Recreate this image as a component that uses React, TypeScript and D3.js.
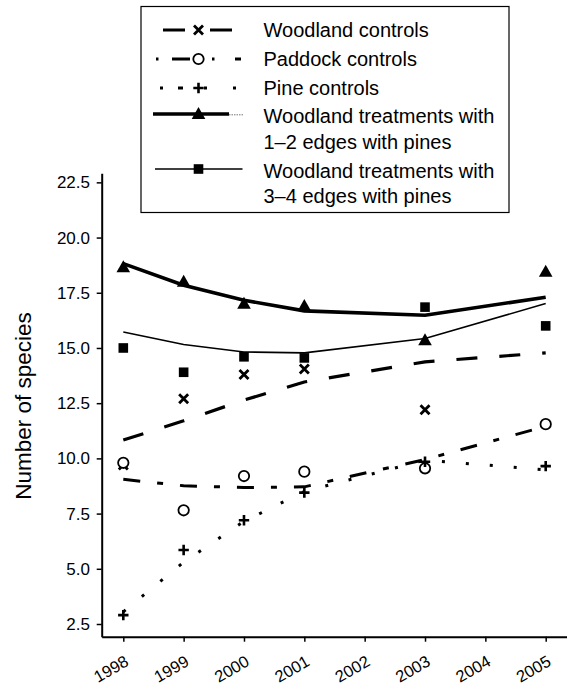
import { useEffect, useRef } from "react";
import * as d3 from "d3";

// years with observations; 2002 and 2004 only get a tick
const years = [1998, 1999, 2000, 2001, 2003, 2005];
const tickYears = [1998, 1999, 2000, 2001, 2002, 2003, 2004, 2005];
const yTicks = [2.5, 5, 7.5, 10, 12.5, 15, 17.5, 20, 22.5];

// observed means (markers)
const woodlandControls = [9.7, 12.7, 13.8, 14.05, 12.2, null];
const paddockControls = [9.8, 7.65, 9.2, 9.4, 9.55, 11.55];
const pineControls = [2.9, 5.85, 7.2, 8.45, 9.85, 9.65];
const woodland12 = [18.65, 18.0, 17.0, 16.9, 15.35, 18.45];
const woodland34 = [15.0, 13.9, 14.6, 14.55, 16.85, 16.0];

// fitted trends (lines)
const woodlandControlsFit = [10.83, 11.7, 12.64, 13.46, 14.37, 14.78];
const paddockControlsFit = [9.05, 8.76, 8.68, 8.71, 9.95, 11.45];
const pineControlsFit = [3.05, 5.3, 7.15, 8.5, 9.92, 9.48];
const woodland12Fit = [18.82, 17.84, 17.16, 16.68, 16.48, 17.3];
const woodland34Fit = [15.72, 15.16, 14.82, 14.78, 15.43, 17.01];

const FONT = "'Liberation Sans', Arial, Helvetica, sans-serif";

type Marker = "cross" | "circle" | "plus" | "triangle" | "square";

const series = [
  {
    label: ["Woodland controls"], marker: "cross" as Marker,
    values: woodlandControls, fit: woodlandControlsFit,
    width: 3.2, dash: "21,22", legendDash: "22,25",
  },
  {
    label: ["Paddock controls"], marker: "circle" as Marker,
    values: paddockControls, fit: paddockControlsFit,
    width: 3, dash: "17,17,6,17", legendDash: "2.5,13.5,18,22,2.5,20.5,6",
  },
  {
    label: ["Pine controls"], marker: "plus" as Marker,
    values: pineControls, fit: pineControlsFit,
    width: 3, dash: "3,21", legendDash: "3,15,5,21,3,26,3",
  },
  {
    label: ["Woodland treatments with", "1\u20132 edges with pines"], marker: "triangle" as Marker,
    values: woodland12, fit: woodland12Fit,
    width: 3.6, dash: null, legendDash: null,
  },
  {
    label: ["Woodland treatments with", "3\u20134 edges with pines"], marker: "square" as Marker,
    values: woodland34, fit: woodland34Fit,
    width: 1.6, dash: null, legendDash: null,
  },
];

function drawMarker(g: any, type: Marker, cx: number, cy: number) {
  if (type === "cross") {
    const s = 4.5;
    g.append("path")
      .attr("d", `M${cx - s},${cy - s}L${cx + s},${cy + s}M${cx - s},${cy + s}L${cx + s},${cy - s}`)
      .attr("stroke", "#000").attr("stroke-width", 2.8).attr("fill", "none");
  } else if (type === "plus") {
    const s = 5.2;
    g.append("path")
      .attr("d", `M${cx - s},${cy}L${cx + s},${cy}M${cx},${cy - s}L${cx},${cy + s}`)
      .attr("stroke", "#000").attr("stroke-width", 2.6).attr("fill", "none");
  } else if (type === "circle") {
    g.append("circle")
      .attr("cx", cx).attr("cy", cy).attr("r", 5.2)
      .attr("fill", "#fff").attr("stroke", "#000").attr("stroke-width", 1.8);
  } else if (type === "triangle") {
    g.append("path")
      .attr("d", `M${cx},${cy - 7}L${cx + 6.8},${cy + 5}L${cx - 6.8},${cy + 5}Z`)
      .attr("fill", "#000");
  } else {
    const s = 4.8;
    g.append("rect")
      .attr("x", cx - s).attr("y", cy - s).attr("width", 2 * s).attr("height", 2 * s)
      .attr("fill", "#000");
  }
}

export default function App() {
  const ref = useRef<HTMLDivElement>(null);

  useEffect(() => {
    document.body.style.margin = "0";
    const container = d3.select(ref.current);
    container.selectAll("*").remove();

    const width = 567, height = 685;
    const svg = container.append("svg")
      .attr("width", width)
      .attr("height", height)
      .style("display", "block")
      .style("font-family", FONT);

    // axis extents reach a little past the first/last data values
    const x = d3.scaleLinear().domain([1997.642, 2005.353]).range([101.7, 567]);
    const y = d3.scaleLinear().domain([1.925, 22.91]).range([636.7, 173.3]);

    // y axis
    const yAxis = svg.append("g")
      .attr("transform", `translate(${x.range()[0]},0)`)
      .call(d3.axisLeft(y).tickValues(yTicks).tickFormat(d3.format(".1f")).tickSize(5).tickSizeOuter(0).tickPadding(6.7));
    yAxis.select(".domain").attr("stroke-width", 2);
    yAxis.selectAll(".tick line").attr("stroke-width", 1.5);
    yAxis.selectAll("text").attr("font-size", 17).attr("font-family", FONT).attr("fill", "#000");

    // x axis
    const xAxis = svg.append("g")
      .attr("transform", `translate(0,${y.range()[0]})`)
      .call(d3.axisBottom(x).tickValues(tickYears).tickFormat(d3.format("d")).tickSize(5).tickSizeOuter(0));
    xAxis.select(".domain").attr("stroke-width", 2);
    xAxis.selectAll(".tick line").attr("stroke-width", 1.5);
    xAxis.selectAll("text")
      .attr("font-size", 16.5).attr("font-family", FONT).attr("fill", "#000")
      .attr("x", 0).attr("y", 0).attr("dy", 0)
      .attr("text-anchor", "end")
      .attr("transform", "translate(6,28) rotate(-30)");

    // y label
    svg.append("text")
      .attr("transform", `translate(31,406) rotate(-90)`)
      .attr("text-anchor", "middle")
      .attr("font-size", 22.5)
      .text("Number of species");

    // fitted lines
    const line = d3.line<number>()
      .x((_, i) => x(years[i]))
      .y(d => y(d));

    const linesG = svg.append("g");
    series.forEach(s => {
      const p = linesG.append("path")
        .attr("d", line(s.fit))
        .attr("fill", "none")
        .attr("stroke", "#000")
        .attr("stroke-width", s.width);
      if (s.dash) p.attr("stroke-dasharray", s.dash);
    });

    // markers
    const markG = svg.append("g");
    series.forEach(s => {
      s.values.forEach((v, i) => {
        if (v == null) return;
        drawMarker(markG, s.marker, x(years[i]), y(v));
      });
    });

    // legend
    const lg = svg.append("g");
    lg.append("rect")
      .attr("x", 141).attr("y", 6.5).attr("width", 368).attr("height", 206)
      .attr("fill", "#fff").attr("stroke", "#000").attr("stroke-width", 1.2);

    const rowY = [[30], [59], [88], [116, 141.5], [171, 195.5]];
    const symY = [30, 59, 88, 114, 169];
    const symX = [[163, 232], [156, 241], [160, 237], [153, 229], [155, 242.5]];
    series.forEach((s, i) => {
      const cy = symY[i];
      const l = lg.append("line")
        .attr("x1", symX[i][0]).attr("x2", symX[i][1])
        .attr("y1", cy).attr("y2", cy)
        .attr("stroke", "#000").attr("stroke-width", s.width);
      if (s.legendDash) l.attr("stroke-dasharray", s.legendDash);
      if (i === 3) {
        // faint tail on the thick legend line
        lg.append("line")
          .attr("x1", 229).attr("x2", 243.5).attr("y1", cy + 0.8).attr("y2", cy + 0.8)
          .attr("stroke", "#777").attr("stroke-width", 1).attr("stroke-dasharray", "1.5,1");
      }
      drawMarker(lg, s.marker, 198.5, cy);
      s.label.forEach((t, j) => {
        lg.append("text")
          .attr("x", 263.5)
          .attr("y", rowY[i][j] + 7)
          .attr("font-size", 20)
          .text(t);
      });
    });
  }, []);

  return <div ref={ref}></div>;
}
